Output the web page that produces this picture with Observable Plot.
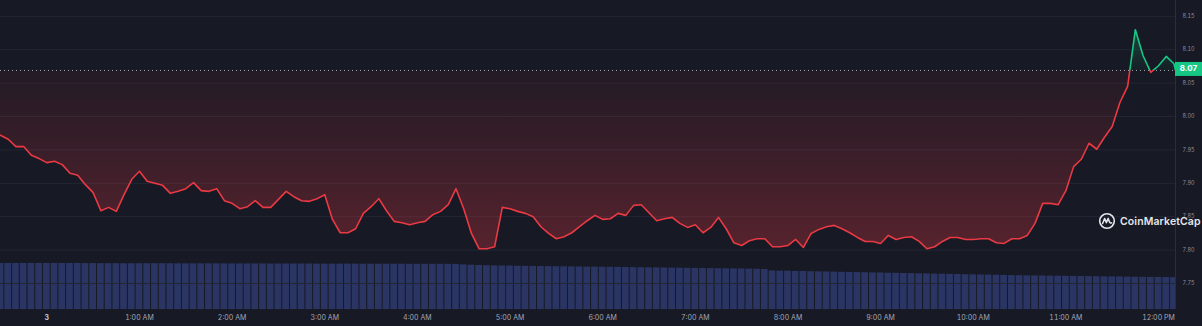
<!DOCTYPE html>
<html><head><meta charset="utf-8">
<script src="https://cdn.jsdelivr.net/npm/d3@7"></script>
<script src="https://cdn.jsdelivr.net/npm/@observablehq/plot@0.6"></script>
<style>
html,body{margin:0;padding:0;background:#171924;}
#chart{position:relative;width:1202px;height:326px;background:#171924;overflow:hidden;font-family:Inter,"Noto Sans",sans-serif;}
#chart svg.plot{position:absolute;left:0;top:0;}
#wm{position:absolute;left:1098px;top:212px;display:flex;align-items:center;color:#e4e6ec;font-family:Inter,sans-serif;font-weight:600;font-size:10.5px;letter-spacing:0.1px;}
</style></head><body><div id="chart"></div>
<script>
// time of first point in minutes relative to midnight of day 3 (23:30), 5-minute candles
const startMinute = -30;
const stepMinutes = 5;
const prices = [
7.972,7.966,7.955,7.955,7.942,7.937,7.931,7.933,7.928,7.915,
7.912,7.898,7.886,7.859,7.864,7.858,7.883,7.906,7.918,7.903,
7.900,7.897,7.885,7.888,7.892,7.901,7.889,7.888,7.892,7.874,
7.870,7.862,7.865,7.874,7.864,7.864,7.876,7.888,7.880,7.874,
7.873,7.877,7.883,7.846,7.826,7.826,7.832,7.855,7.865,7.877,
7.859,7.843,7.841,7.838,7.841,7.843,7.853,7.858,7.868,7.892,
7.862,7.825,7.802,7.802,7.805,7.864,7.862,7.858,7.855,7.850,
7.835,7.825,7.817,7.820,7.826,7.835,7.844,7.852,7.846,7.847,
7.855,7.852,7.867,7.868,7.856,7.844,7.847,7.849,7.840,7.834,
7.838,7.826,7.834,7.849,7.832,7.811,7.807,7.814,7.817,7.817,
7.805,7.805,7.807,7.816,7.804,7.825,7.831,7.835,7.837,7.832,
7.826,7.819,7.813,7.813,7.810,7.822,7.816,7.819,7.820,7.813,
7.802,7.805,7.813,7.819,7.819,7.816,7.816,7.817,7.817,7.811,
7.810,7.817,7.817,7.822,7.840,7.870,7.870,7.868,7.889,7.925,
7.936,7.960,7.951,7.969,7.985,8.021,8.045,8.130,8.091,8.066,
8.076,8.090,8.079
];
const lastMinute = 731;
const lastPrice = 8.069;
const volumes = [
46.2,46.2,46.1,46.1,46.1,46.0,46.0,46.0,46.0,46.0,
46.0,45.9,45.9,45.9,45.9,45.9,45.8,45.8,45.8,45.8,
45.8,45.8,45.8,45.7,45.7,45.7,45.7,45.7,45.7,45.6,
45.6,45.6,45.6,45.6,45.6,45.5,45.5,45.5,45.5,45.5,
45.5,45.4,45.4,45.4,45.4,45.4,45.4,45.3,45.3,45.3,
45.3,45.3,45.3,45.2,45.2,45.2,45.2,45.2,45.2,45.1,
44.6,44.3,44.0,43.8,43.6,43.5,43.4,43.3,43.2,43.1,
43.0,42.9,42.8,42.7,42.6,42.5,42.4,42.4,42.3,42.2,
42.1,42.0,41.9,41.8,41.7,41.6,41.5,41.4,41.3,41.2,
41.1,41.0,40.9,40.8,40.7,40.6,40.5,40.4,40.2,40.0,
38.6,38.4,38.3,38.1,38.0,37.8,37.7,37.5,37.4,37.2,
37.1,36.9,36.8,36.6,36.5,36.3,36.2,36.0,35.9,35.7,
35.6,35.4,35.3,35.1,35.0,34.8,34.7,34.5,34.4,34.2,
34.1,33.9,33.8,33.7,33.6,33.5,33.4,33.3,33.2,33.1,
33.0,32.9,32.8,32.7,32.6,32.5,32.4,32.3,32.2,32.1,
32.0,32.0,31.9
];
const xTickMinutes = [0,60,120,180,240,300,360,420,480,540,600,660,720];
const xTickLabels = ["3","1:00 AM","2:00 AM","3:00 AM","4:00 AM","5:00 AM","6:00 AM","7:00 AM","8:00 AM","9:00 AM","10:00 AM","11:00 AM","12:00 PM"];
const yTicks = [7.75,7.80,7.85,7.90,7.95,8.00,8.05,8.10,8.15];

const W = 1202, H = 326;
const xDomain = [startMinute, lastMinute];
const priceData = prices.map((p, i) => ({t: startMinute + i * stepMinutes, p}))
  .concat([{t: lastMinute, p: lastPrice}]);
const volData = volumes.map((v, i) => ({t: startMinute + i * stepMinutes, v}));
const baseline = lastPrice;
const labelOf = new Map(xTickMinutes.map((m, i) => [m, xTickLabels[i]]));

const volPlot = Plot.plot({
  width: W, height: H, marginLeft: 0, marginRight: 27, marginTop: 263, marginBottom: 17,
  style: {background: "transparent"},
  x: {domain: xDomain, axis: null},
  y: {domain: [0, 46], axis: null},
  marks: [
    Plot.rectY(volData, {x1: d => d.t - stepMinutes / 2, x2: d => d.t + stepMinutes / 2, y: "v",
      fill: "#2a3563", insetLeft: 0.5, insetRight: 0.5, clip: true})
  ]
});
volPlot.classList.add("plot");

const pricePlot = Plot.plot({
  width: W, height: H, marginLeft: 0, marginRight: 27, marginTop: 0, marginBottom: 17,
  style: {background: "transparent", overflow: "visible", fontFamily: "Inter, 'Noto Sans', sans-serif"},
  x: {domain: xDomain},
  y: {domain: [7.7111, 8.1737]},
  marks: [
    Plot.ruleY(yTicks, {stroke: "#232734", strokeWidth: 1}),
    Plot.areaY(priceData, {x: "t", y1: baseline, y2: "p", fill: "url(#areaGrad)"}),
    Plot.ruleY([baseline], {stroke: "#a3a8b5", strokeDasharray: "1,3", strokeWidth: 1}),
    Plot.lineY(priceData, {x: "t", y: "p", stroke: "url(#lineGrad)", strokeWidth: 1.6}),
    Plot.ruleX([xDomain[1]], {stroke: "#2a2e3a", strokeWidth: 1}),
    Plot.axisY(yTicks, {anchor: "right", tickSize: 0, tickPadding: 7, tickFormat: d => d.toFixed(2),
      fontSize: 5.5, fill: "#8a8fa0", label: null}),
    Plot.axisX([0], {anchor: "bottom", tickSize: 0, tickPadding: 6, tickFormat: d => labelOf.get(d),
      fontSize: 7, fontWeight: "bold", fill: "#c9ccd6", label: null}),
    Plot.axisX(xTickMinutes.slice(1), {anchor: "bottom", tickSize: 0, tickPadding: 6, tickFormat: d => labelOf.get(d),
      fontSize: 7, fill: "#a3a7b4", label: null})
  ]
});
pricePlot.classList.add("plot");

// gradients positioned with the y scale
const ys = pricePlot.scale("y");
const by = ys.apply(baseline);
const ns = "http://www.w3.org/2000/svg";
const defs = document.createElementNS(ns, "defs");
function grad(id, stops) {
  const g = document.createElementNS(ns, "linearGradient");
  g.setAttribute("id", id);
  g.setAttribute("gradientUnits", "userSpaceOnUse");
  g.setAttribute("x1", 0); g.setAttribute("x2", 0);
  g.setAttribute("y1", 0); g.setAttribute("y2", H);
  for (const [off, color, op] of stops) {
    const s = document.createElementNS(ns, "stop");
    s.setAttribute("offset", Math.max(0, Math.min(1, off)));
    s.setAttribute("stop-color", color);
    s.setAttribute("stop-opacity", op);
    g.appendChild(s);
  }
  defs.appendChild(g);
}
grad("lineGrad", [[by / H, "#16c784", 1], [by / H, "#ea3943", 1]]);
grad("areaGrad", [
  [ys.apply(8.13) / H, "#16c784", 0.28],
  [by / H, "#16c784", 0.03],
  [by / H, "#ea3943", 0.05],
  [ys.apply(7.80) / H, "#ea3943", 0.30]
]);
pricePlot.insertBefore(defs, pricePlot.firstChild);

// current price label box
const xs = pricePlot.scale("x");
const x0 = xs.apply(xDomain[1]);
const g = document.createElementNS(ns, "g");
const r = document.createElementNS(ns, "rect");
r.setAttribute("x", x0); r.setAttribute("y", by - 8);
r.setAttribute("width", W - x0); r.setAttribute("height", 14);
r.setAttribute("fill", "#16c784");
const t = document.createElementNS(ns, "text");
t.setAttribute("x", x0 + (W - x0) / 2); t.setAttribute("y", by - 1);
t.setAttribute("text-anchor", "middle"); t.setAttribute("dominant-baseline", "middle");
t.setAttribute("fill", "#ffffff"); t.setAttribute("font-size", "8");
t.setAttribute("font-weight", "bold");
t.textContent = lastPrice.toFixed(2);
g.appendChild(r); g.appendChild(t);
pricePlot.appendChild(g);

const chart = document.getElementById("chart");
chart.appendChild(volPlot);
chart.appendChild(pricePlot);

const wm = document.createElement("div");
wm.id = "wm";
wm.innerHTML = '<svg width="18" height="18" viewBox="0 0 18 18" style="margin-right:4px"><circle cx="9" cy="9" r="7.3" fill="none" stroke="#e4e6ec" stroke-width="1.6"/><path d="M4.6 11.6 L6.6 6.4 L8.4 10.6 L10.2 6.4 L11.6 10.2 Q12.3 11.6 13.6 10.8" fill="none" stroke="#e4e6ec" stroke-width="1.5" stroke-linejoin="round" stroke-linecap="round"/></svg><span>CoinMarketCap</span>';
chart.appendChild(wm);
</script>
</body></html>
